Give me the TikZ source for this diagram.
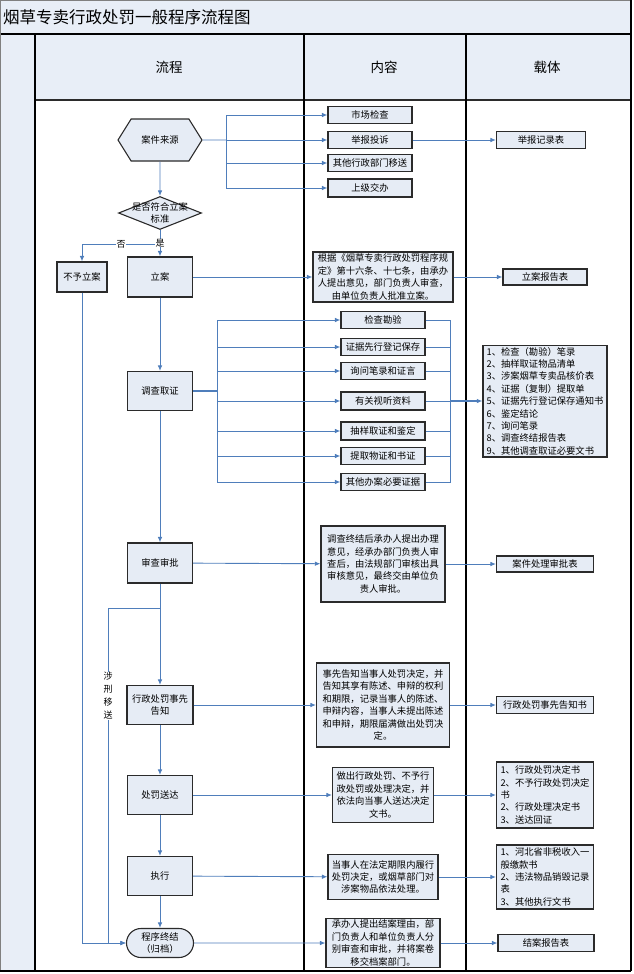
\documentclass[tikz,border=0pt]{standalone}
\usepackage{fontspec}
\newfontfamily\cjk{Noto Sans CJK SC}
\usetikzlibrary{arrows.meta,shapes.geometric,shapes.symbols,shapes.misc}
\definecolor{boxfill}{HTML}{E6ECF5}
\definecolor{hdrfill}{HTML}{E8EEF7}
\definecolor{boxline}{HTML}{2B2B2B}
\definecolor{flowblue}{HTML}{4F7EBB}
\begin{document}
\begin{tikzpicture}[x=1pt,y=-1pt]
		\tikzset{box/.style = {draw=boxline, fill=boxfill, line width=1.1pt, inner sep=2pt, align=center, font=\cjk\fontsize{9.3}{12.4}\selectfont},
			flow/.style = {box, minimum width=65pt, minimum height=40pt},
			item/.style = {box, minimum width=84pt, minimum height=17pt},
			form/.style = {box, minimum width=97pt, minimum height=17pt},
			hexa/.style = {box, signal, signal to=west and east, signal pointer angle=116, minimum width=84pt, minimum height=42pt},
			decide/.style = {draw=boxline, fill=boxfill, line width=1.1pt, diamond, minimum width=83pt, minimum height=33pt, inner sep=0pt},
			endbox/.style = {box, rounded rectangle, minimum width=71pt, minimum height=29pt},
			tag/.style = {fill=white, inner sep=0.5pt, font=\cjk\fontsize{9}{13}\selectfont, align=center},
			link/.style = {draw=flowblue, line width=0.9pt},
			arr/.style = {link, -{Latex[length=5.5pt,width=4.5pt]}}}
		\useasboundingbox (0,0) rectangle (633,974);
		% Frame of the table
		\fill[hdrfill] (0,0) rectangle (631,34);
		\fill[hdrfill] (0,34) rectangle (35,971);
		\fill[hdrfill] (35,34) rectangle (631,100);
		\draw[gray, line width=0.8pt] (0.5,0.5) rectangle (631,34);
		\draw[gray, line width=0.8pt] (0.5,34) -- (0.5,971);
		\draw[boxline, line width=1.2pt] (35,100) -- (631,100);
		\draw[black, line width=1.6pt] (0.5,34) -- (631,34);
		\draw[black, line width=1.6pt] (35,34) -- (35,971);
		\draw[black, line width=1.6pt] (304,34) -- (304,971);
		\draw[black, line width=1.6pt] (466,34) -- (466,971);
		\draw[black, line width=1.2pt] (631,0) -- (631,971);
		\draw[black, line width=1.8pt] (0,971) -- (631,971);
		\node[anchor=west, inner sep=0pt, font=\cjk\fontsize{16.5}{18}\selectfont] (title) at (3,17) {烟草专卖行政处罚一般程序流程图};
		\node[font=\cjk\fontsize{13.5}{15}\selectfont] (hflow) at (169,67) {流程};
		\node[font=\cjk\fontsize{13.5}{15}\selectfont] (hcont) at (384,67) {内容};
		\node[font=\cjk\fontsize{13.5}{15}\selectfont] (hform) at (547,67) {载体};
		% Flow column
		\node[hexa] (src) at (160,140) {案件来源};
		\node[decide] (judge) at (160,213) {};
		\node[inner sep=0pt, align=center, font=\cjk\fontsize{9.3}{12.4}\selectfont] (judgetxt) at (160,213) {是否符合立案\\标准};
		\coordinate (yes) at (160,244);
		\node[box, minimum width=50pt, minimum height=30pt] (reject) at (82,277) {不予立案};
		\node[flow] (filing) at (160,277) {立案};
		\node[flow, minimum height=39pt] (inv) at (160,391) {调查取证};
		\node[flow] (review) at (160,563) {审查审批};
		\coordinate (xing) at (160,608);
		\coordinate (xingL) at (108,608);
		\node[flow, minimum width=66pt, minimum height=39pt] (notice) at (160,705) {行政处罚事先\\告知};
		\node[flow, minimum height=39pt] (deliver) at (160,795) {处罚送达};
		\node[flow, minimum height=39pt] (exec) at (160,876) {执行};
		\node[endbox] (end) at (160,943) {程序终结\\（归档）};
		% Content column
		\node[item] (market) at (370,115) {市场检查};
		\node[item] (report) at (370,140) {举报投诉};
		\node[item] (other) at (370,163) {其他行政部门移送};
		\node[item, minimum height=18pt] (upper) at (370,188) {上级交办};
		\coordinate (srcbus) at (226,140);
		\node[box, minimum width=140pt, minimum height=50pt] (filingtxt) at (383,277) {根据《烟草专卖行政处罚程序规\\定》第十六条、十七条，由承办\\人提出意见，部门负责人审查，\\由单位负责人批准立案。};
		\node[item] (check) at (383,320) {检查勘验};
		\node[item] (keep) at (383,347) {证据先行登记保存};
		\node[item] (ask) at (383,371) {询问笔录和证言};
		\node[item, minimum height=18pt] (av) at (383,401) {有关视听资料};
		\node[item, minimum height=18pt] (sample) at (383,431) {抽样取证和鉴定};
		\node[item] (fetch) at (383,456) {提取物证和书证};
		\node[item] (others) at (383,482) {其他办案必要证据};
		\coordinate (invbus) at (217,391);
		\coordinate (evbus) at (450,401);
		\node[box, minimum width=124pt, minimum height=76pt] (reviewtxt) at (383,564) {调查终结后承办人提出办理\\意见，经承办部门负责人审\\查后，由法规部门审核出具\\审核意见，最终交由单位负\\责人审批。};
		\node[box, minimum width=133pt, minimum height=84pt] (noticetxt) at (383,705) {事先告知当事人处罚决定，并\\告知其享有陈述、申辩的权利\\和期限，记录当事人的陈述、\\申辩内容，当事人未提出陈述\\和申辩，期限届满做出处罚决\\定。};
		\node[box, minimum width=101pt, minimum height=55pt] (delivertxt) at (383,795) {做出行政处罚、不予行\\政处罚或处理决定，并\\依法向当事人送达决定\\文书。};
		\node[box, minimum width=110pt, minimum height=45pt] (exectxt) at (383,877) {当事人在法定期限内履行\\处罚决定，或烟草部门对\\涉案物品依法处理。};
		\node[box, minimum width=114pt, minimum height=45pt] (endtxt) at (383,943) {承办人提出结案理由，部\\门负责人和单位负责人分\\别审查和审批，并将案卷\\移交档案部门。};
		% Carrier column
		\node[box, minimum width=89pt, minimum height=17pt] (reportform) at (541,140) {举报记录表};
		\node[box, minimum width=84pt, minimum height=16pt] (filingform) at (545,277) {立案报告表};
		\node[box, align=left, minimum width=124pt, minimum height=111pt] (evlist) at (545,401) {1、检查（勘验）笔录\\2、抽样取证物品清单\\3、涉案烟草专卖品核价表\\4、证据（复制）提取单\\5、证据先行登记保存通知书\\6、鉴定结论\\7、询问笔录\\8、调查终结报告表\\9、其他调查取证必要文书};
		\node[form, minimum height=16pt] (reviewform) at (545,564) {案件处理审批表};
		\node[form] (noticeform) at (545,705) {行政处罚事先告知书};
		\node[form, align=left, minimum height=66pt] (deliverlist) at (545,795) {1、行政处罚决定书\\2、不予行政处罚决定\\书\\2、行政处理决定书\\3、送达回证};
		\node[form, align=left, minimum height=64pt] (execlist) at (545,877) {1、河北省非税收入一\\般缴款书\\2、违法物品销毁记录\\表\\3、其他执行文书};
		\node[form, minimum width=96pt] (endform) at (546,943) {结案报告表};
		% Main flow
		\draw[arr] (src) -- (judge);
		\draw[arr] (judge) -- (filing);
		\draw[arr] (yes) -| (reject);
		\node[tag] (no) at (121,244) {否};
		\node[tag] (yeslbl) at (160,243) {是};
		\draw[arr] (filing) -- (inv);
		\draw[arr] (inv) -- (review);
		\draw[arr] (review) -- (notice);
		\draw[arr] (notice) -- (deliver);
		\draw[arr] (deliver) -- (exec);
		\draw[arr] (exec) -- (end);
		\draw[arr] (reject) |- (end);
		\draw[arr] (xing) -- (xingL) |- (end);
		\node[tag] (xinglbl) at (108,696) {涉\\刑\\移\\送};
		% Case sources
		\draw[link] (src) -- (srcbus);
		\draw[arr] (srcbus) |- (market);
		\draw[arr] (srcbus) -- (report);
		\draw[arr] (srcbus) |- (other);
		\draw[arr] (srcbus) |- (upper);
		\draw[arr] (report) -- (reportform);
		% Filing
		\draw[arr] (filing) -- (filingtxt);
		\draw[arr] (filingtxt) -- (filingform);
		% Evidence
		\draw[link, line width=1.6pt] (inv) -- (invbus);
		\draw[arr] (invbus) |- (check);
		\draw[arr] (invbus) |- (keep);
		\draw[arr] (invbus) |- (ask);
		\draw[arr] (invbus) |- (av);
		\draw[arr] (invbus) |- (sample);
		\draw[arr] (invbus) |- (fetch);
		\draw[arr] (invbus) |- (others);
		\draw[link] (check) -| (evbus);
		\draw[link] (keep) -| (evbus);
		\draw[link] (ask) -| (evbus);
		\draw[link] (sample) -| (evbus);
		\draw[link] (fetch) -| (evbus);
		\draw[link] (others) -| (evbus);
		\draw[link] (av) -- (evbus);
		\draw[arr, line width=1.4pt] (evbus) -- (evlist);
		% Review to end
		\draw[arr] (review) -- (reviewtxt);
		\draw[arr] (reviewtxt) -- (reviewform);
		\draw[arr] (notice) -- (noticetxt);
		\draw[arr] (noticetxt) -- (noticeform);
		\draw[arr] (deliver) -- (delivertxt);
		\draw[arr] (delivertxt) -- (deliverlist);
		\draw[arr] (exec) -- (exectxt);
		\draw[arr] (exectxt) -- (execlist);
		\draw[arr] (end) -- (endtxt);
		\draw[arr] (endtxt) -- (endform);
	\end{tikzpicture}
\end{document}
